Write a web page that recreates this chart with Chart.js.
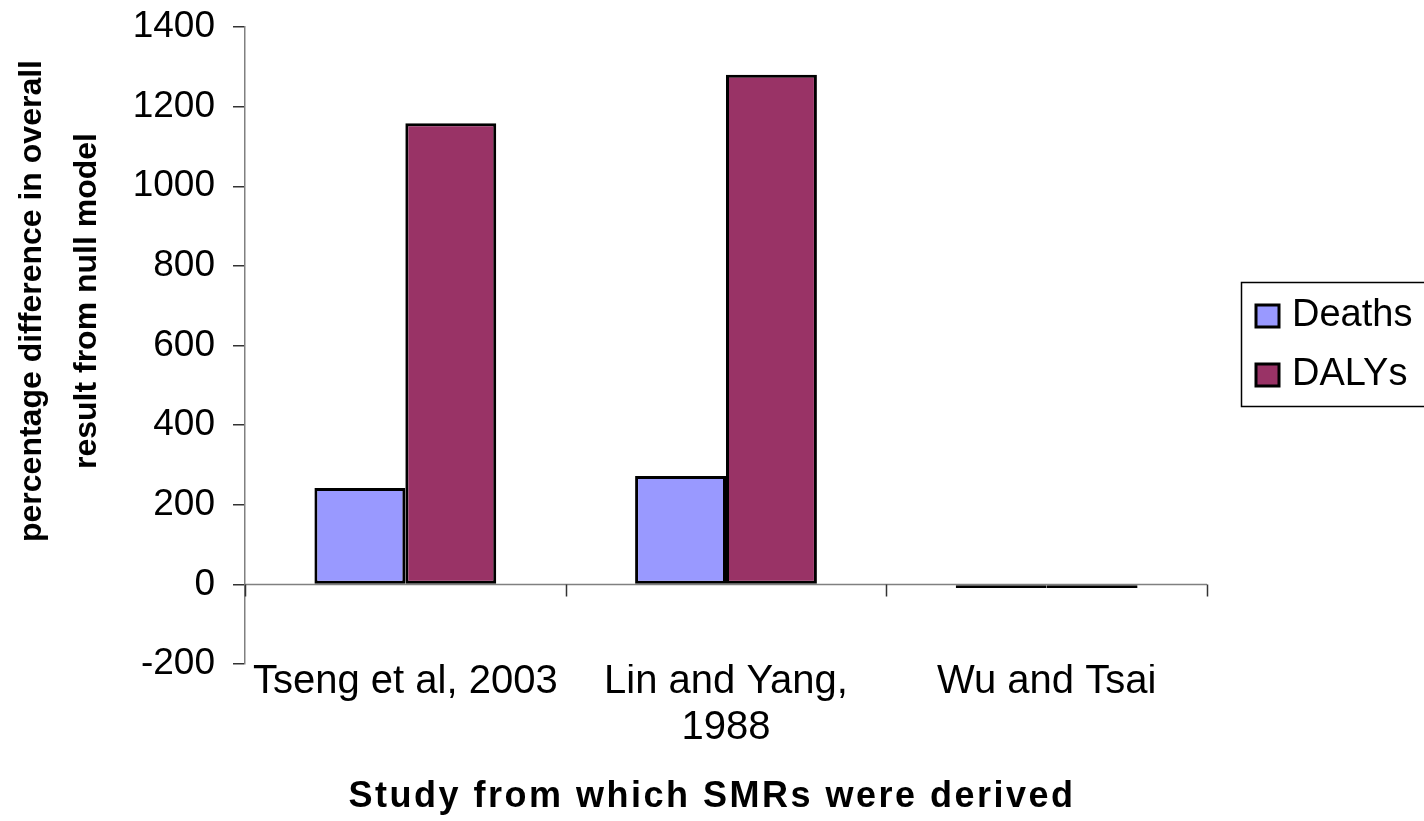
<!DOCTYPE html>
<html>
<head>
<meta charset="utf-8">
<script src="https://cdn.jsdelivr.net/npm/chart.js@4.4.1/dist/chart.umd.min.js"></script>
<style>
  html, body { margin: 0; padding: 0; background: #ffffff; }
  #wrap { width: 1424px; height: 821px; position: relative; }
</style>
</head>
<body>
<div id="wrap"><canvas id="chart" width="1424" height="821"></canvas></div>
<script>
// Studies the SMRs were taken from
const studies = [['Tseng et al, 2003'], ['Lin and Yang,', '1988'], ['Wu and Tsai']];
// Percentage difference in overall result compared with the null model
const deaths = [242, 272, -9];
const dalys = [1158, 1280, -9];
const seriesNames = ['Deaths', 'DALYs'];
const seriesColors = ['#9999FF', '#993366'];
// Value axis ticks
const yMin = -200;
const yMax = 1400;
const yStep = 200;
// Axis titles
const yTitleLines = ['percentage difference in overall', 'result from null model'];
const xTitleText = 'Study from which SMRs were derived';

const FONT = "'Liberation Sans', Arial, sans-serif";

// Zero line with category tick marks hanging below it
const zeroAxis = {
  id: 'zeroAxis',
  beforeDatasetsDraw(chart) {
    const { ctx } = chart;
    const x = chart.scales.x;
    const y0 = Math.round(chart.scales.y.getPixelForValue(0)) + 0.5;
    ctx.save();
    ctx.strokeStyle = '#808080';
    ctx.lineWidth = 1.5;
    ctx.beginPath();
    ctx.moveTo(x.left, y0);
    ctx.lineTo(x.right, y0);
    ctx.stroke();
    ctx.strokeStyle = '#333333';
    const n = chart.data.labels.length;
    for (let i = 0; i <= n; i++) {
      const px = Math.round(x.left + i * (x.right - x.left) / n) + 0.5;
      ctx.beginPath();
      ctx.moveTo(px, y0);
      ctx.lineTo(px, y0 + 12);
      ctx.stroke();
    }
    ctx.restore();
  }
};

// Axis titles: rotated two-line value title and letter-spaced category title
const axisTitles = {
  id: 'axisTitles',
  afterDraw(chart) {
    const { ctx } = chart;
    ctx.save();
    ctx.fillStyle = '#000000';
    ctx.textAlign = 'center';
    ctx.textBaseline = 'middle';
    ctx.font = 'bold 32px ' + FONT;
    ctx.translate(60, 301);
    ctx.rotate(-Math.PI / 2);
    ctx.fillText(yTitleLines[0], 0, -27.5);
    ctx.fillText(yTitleLines[1], 0, 27.5);
    ctx.restore();

    ctx.save();
    ctx.fillStyle = '#000000';
    ctx.textAlign = 'center';
    ctx.textBaseline = 'alphabetic';
    ctx.font = 'bold 36px ' + FONT;
    if ('letterSpacing' in ctx) ctx.letterSpacing = '2.5px';
    ctx.fillText(xTitleText, 712, 807);
    ctx.restore();
  }
};

// Boxed legend to the right of the plot
const boxLegend = {
  id: 'boxLegend',
  afterDraw(chart) {
    const { ctx } = chart;
    const left = chart.chartArea.right + 34;
    const top = 282;
    ctx.save();
    ctx.strokeStyle = '#000000';
    ctx.lineWidth = 1.5;
    ctx.strokeRect(left + 0.5, top + 0.5, 240, 124);
    ctx.font = '38px ' + FONT;
    ctx.textBaseline = 'alphabetic';
    ctx.textAlign = 'left';
    chart.data.datasets.forEach((ds, i) => {
      const base = top + 44 + i * 59;
      ctx.fillStyle = ds.backgroundColor;
      ctx.fillRect(left + 15, base - 21, 23, 22);
      ctx.strokeStyle = '#000000';
      ctx.lineWidth = 3;
      ctx.strokeRect(left + 15, base - 21, 23, 22);
      ctx.fillStyle = '#000000';
      ctx.fillText(ds.label, left + 51, base);
    });
    ctx.restore();
  }
};

new Chart(document.getElementById('chart'), {
  type: 'bar',
  data: {
    labels: studies,
    datasets: [
      { label: seriesNames[0], data: deaths, backgroundColor: seriesColors[0] },
      { label: seriesNames[1], data: dalys, backgroundColor: seriesColors[1] }
    ]
  },
  options: {
    responsive: false,
    animation: false,
    devicePixelRatio: 1,
    layout: { padding: { top: 27, right: 217, bottom: 0, left: 0 } },
    datasets: {
      bar: {
        borderColor: '#000000',
        borderWidth: 3,
        borderSkipped: false,
        categoryPercentage: 0.567,
        barPercentage: 1.0
      }
    },
    plugins: {
      legend: { display: false },
      tooltip: { enabled: false }
    },
    scales: {
      x: {
        position: 'bottom',
        grid: { display: false },
        border: { display: false },
        ticks: {
          color: '#000000',
          font: { family: FONT, size: 40, lineHeight: 1.15 },
          padding: -13,
          maxRotation: 0,
          autoSkip: false
        },
        title: { display: false },
        afterFit(scale) { scale.height = 157; }
      },
      y: {
        min: yMin,
        max: yMax,
        grid: {
          drawOnChartArea: false,
          drawTicks: true,
          tickLength: 12,
          color: '#333333',
          lineWidth: 1.5
        },
        border: { display: true, color: '#808080', width: 1.5 },
        ticks: {
          stepSize: yStep,
          color: '#000000',
          font: { family: FONT, size: 37 },
          padding: 18,
          callback: (v) => String(v)
        },
        title: { display: false },
        afterFit(scale) {
          scale.width = 245;
          scale.paddingTop = 0;
          scale.paddingBottom = 0;
        }
      }
    }
  },
  plugins: [zeroAxis, axisTitles, boxLegend]
});
</script>
</body>
</html>
